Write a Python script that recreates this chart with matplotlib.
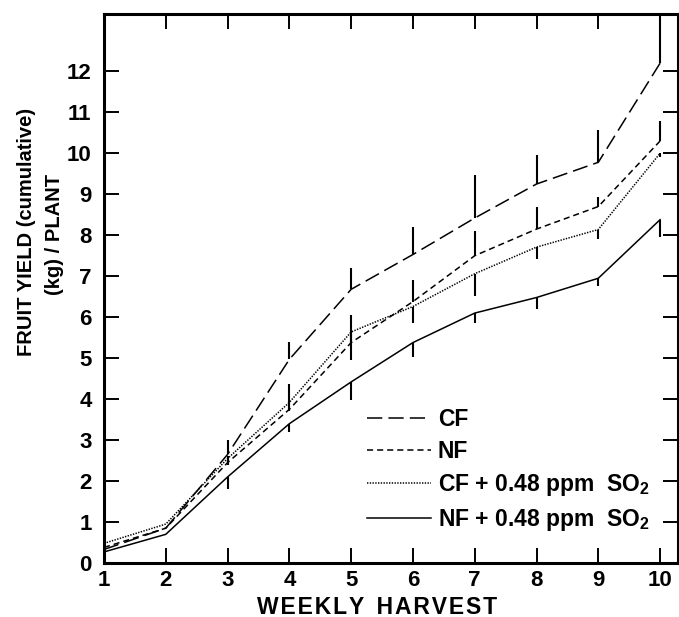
import matplotlib.pyplot as plt
import numpy as np

plt.rcParams['font.family'] = ['Liberation Sans', 'DejaVu Sans']
plt.rcParams['font.weight'] = 'bold'

# weekly harvest number
weeks = np.arange(1, 11)

# cumulative fruit yield (kg / plant)
cf = [0.33, 0.85, 2.65, 4.97, 6.68, 7.53, 8.42, 9.25, 9.78, 12.2]
nf = [0.38, 0.85, 2.45, 3.75, 5.38, 6.38, 7.50, 8.15, 8.70, 10.3]
cf_so2 = [0.48, 0.95, 2.55, 3.92, 5.64, 6.26, 7.06, 7.71, 8.14, 10.0]
nf_so2 = [0.27, 0.70, 2.10, 3.40, 4.42, 5.38, 6.10, 6.48, 6.95, 8.38]

# one-sided error bars (CF, NF drawn up; SO2 treatments drawn down)
cf_err = [0, 0, 0.35, 0.42, 0.53, 0.68, 1.05, 0.72, 0.80, 1.4]
nf_err = [0, 0, 0.15, 0.63, 0.67, 0.52, 0.60, 0.54, 0.23, 0.48]
cf_so2_err = [0, 0, 0.15, 0.20, 0.69, 0.41, 0.55, 0.30, 0.22, 0.10]
nf_so2_err = [0, 0, 0.30, 0.20, 0.45, 0.35, 0.24, 0.29, 0.18, 0.42]

labels = ['CF', 'NF',
          r'CF + 0.48 ppm  SO$_\mathregular{2}$',
          r'NF + 0.48 ppm  SO$_\mathregular{2}$']

fig = plt.figure(figsize=(6.79, 6.17), dpi=100)
ax = fig.add_axes([104 / 679, 1 - 563 / 617, 574 / 679, 549 / 617])

lw = 1.1
ax.plot(weeks, cf, color='black', lw=lw, ls=(0, (10, 4)), label=labels[0])
ax.plot(weeks, nf, color='black', lw=lw, ls=(0, (4, 2.6)), label=labels[1])
ax.plot(weeks, cf_so2, color='black', lw=lw, ls=(0, (0.9, 0.9)), label=labels[2])
ax.plot(weeks, nf_so2, color='black', lw=lw, ls='-', label=labels[3])

cf_a, nf_a = np.array(cf), np.array(nf)
cs_a, ns_a = np.array(cf_so2), np.array(nf_so2)
ax.vlines(weeks, cf_a, cf_a + np.array(cf_err), color='black', lw=1.5)
ax.vlines(weeks, nf_a, nf_a + np.array(nf_err), color='black', lw=1.5)
ax.vlines(weeks, cs_a - np.array(cf_so2_err), cs_a, color='black', lw=1.5)
ax.vlines(weeks, ns_a - np.array(nf_so2_err), ns_a, color='black', lw=1.5)

ax.set_xlim(1, 10.29)
ax.set_ylim(0, 13.4)
ax.set_xticks(weeks)
ax.set_yticks(range(0, 13))

for s in ax.spines.values():
    s.set_linewidth(2.2)
ax.tick_params(axis='both', direction='in', length=11, width=1.4,
               labelsize=16, top=True, right=True)
ax.tick_params(axis='x', pad=5)
ax.tick_params(axis='y', pad=9)

# spread the letters a little, like the original lettering
xlab = '\u200a'.join('WEEKLY') + '  ' + '\u200a'.join('HARVEST')
fig.text(377 / 679, 1 - 607 / 617, xlab, ha='center', va='center',
         fontsize=16.5, fontweight='bold')
fig.text(27 / 679, 1 - 232 / 617, 'FRUIT YIELD (cumulative)', rotation=90,
         ha='center', va='center', fontsize=14.5)
fig.text(54 / 679, 1 - 234 / 617, '(kg) / PLANT', rotation=90,
         ha='center', va='center', fontsize=14.5)

ax.legend(loc='upper left', bbox_to_anchor=(0.458, 0.283), frameon=False,
          fontsize=16.5, handlelength=2.8, handletextpad=0.3,
          labelspacing=0.4, borderpad=0, borderaxespad=0)

fig.savefig('out.png', dpi=100)
